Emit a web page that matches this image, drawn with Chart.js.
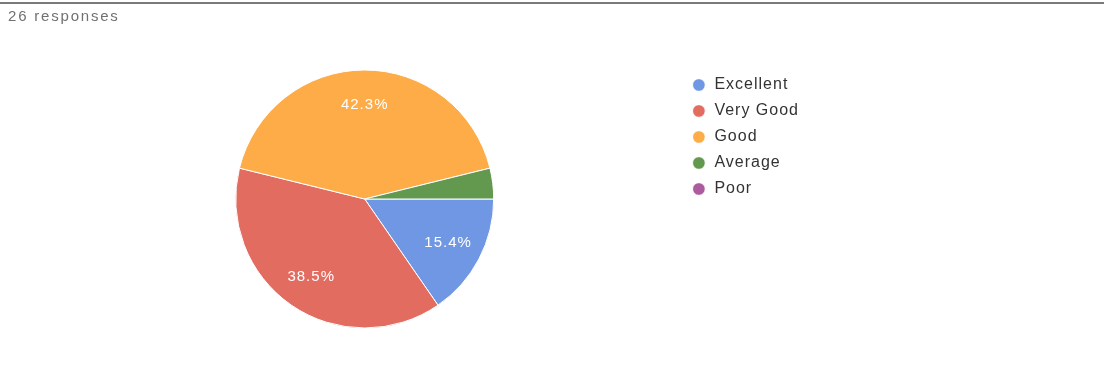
<!DOCTYPE html>
<html>
<head>
<meta charset="utf-8">
<script src="https://cdn.jsdelivr.net/npm/chart.js@4/dist/chart.umd.min.js"></script>
<style>
  body { margin: 0; background: #fff; }
  #wrap { position: relative; width: 1104px; height: 387px; overflow: hidden; }
  #topline { position: absolute; left: 0; top: 2px; width: 1104px; height: 2px; background: #7a7a7a; }
  #count { position: absolute; left: 8px; top: 7px; font: 15px Arial, "Liberation Sans", sans-serif; letter-spacing: 1.8px; color: #707070; }
  #pie { position: absolute; left: 0; top: 0; }
</style>
</head>
<body>
<div id="wrap">
  <canvas id="pie" width="1104" height="387"></canvas>
  <div id="topline"></div>
  <div id="count">26 responses</div>
</div>
<script>
const labels = ['Excellent', 'Very Good', 'Good', 'Average', 'Poor'];
const counts = [4, 10, 11, 1, 0];
const colors = ['#7097e3', '#e26c60', '#fdac48', '#63994f', '#ad5b9f'];

const total = counts.reduce((a, b) => a + b, 0);

// wider text like the reference
const spacing = {
  id: 'spacing',
  beforeUpdate(chart) { chart.ctx.letterSpacing = '1px'; },
  beforeDraw(chart) { chart.ctx.letterSpacing = '1px'; }
};

// percent labels drawn inside the slices
const sliceLabels = {
  id: 'sliceLabels',
  afterDatasetsDraw(chart) {
    const ctx = chart.ctx;
    const meta = chart.getDatasetMeta(0);
    ctx.save();
    ctx.font = '15px Arial, "Liberation Sans", sans-serif';
    ctx.fillStyle = '#ffffff';
    ctx.textAlign = 'center';
    ctx.textBaseline = 'middle';
    meta.data.forEach((arc, i) => {
      const pct = counts[i] / total * 100;
      if (pct < 5) return;
      const p = arc.getProps(['x', 'y', 'startAngle', 'endAngle', 'outerRadius'], true);
      const mid = (p.startAngle + p.endAngle) / 2;
      const r = p.outerRadius * 0.73;
      ctx.fillText(pct.toFixed(1) + '%', p.x + Math.cos(mid) * r, p.y + Math.sin(mid) * r);
    });
    ctx.restore();
  }
};

new Chart(document.getElementById('pie'), {
  type: 'pie',
  data: {
    labels: labels,
    datasets: [{
      data: counts,
      backgroundColor: colors,
      borderColor: '#ffffff',
      borderWidth: 1,
      radius: 129
    }]
  },
  options: {
    responsive: false,
    animation: false,
    rotation: 90,
    layout: { padding: { left: 48, top: 67, bottom: 56, right: 295 } },
    plugins: {
      tooltip: { enabled: false },
      legend: {
        position: 'right',
        align: 'start',
        labels: {
          usePointStyle: true,
          pointStyle: 'circle',
          boxWidth: 15,
          boxHeight: 9,
          padding: 10,
          color: '#333333',
          font: { family: 'Arial, "Liberation Sans", sans-serif', size: 16 }
        }
      }
    }
  },
  plugins: [spacing, sliceLabels]
});
</script>
</body>
</html>
